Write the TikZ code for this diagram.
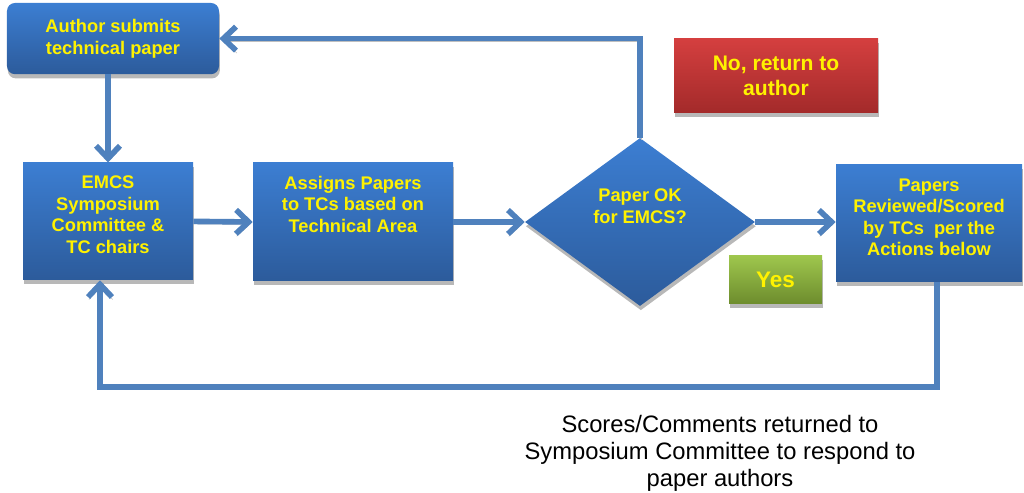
\documentclass[tikz,border=0pt]{standalone}
\usepackage{fontspec}
\setsansfont{Liberation Sans}
\usetikzlibrary{shapes.geometric,arrows.meta,shadows}

\definecolor{boxtop}{HTML}{3C7ED2}
\definecolor{boxbottom}{HTML}{2C5B9B}
\definecolor{notop}{HTML}{D43F3F}
\definecolor{nobottom}{HTML}{A32A2A}
\definecolor{yestop}{HTML}{9EC64D}
\definecolor{yesbottom}{HTML}{6D8C2D}
\definecolor{flowblue}{HTML}{4F81BD}

\begin{document}
\begin{tikzpicture}[
    box/.style={rectangle, top color=boxtop, bottom color=boxbottom, text=yellow,
      font=\sffamily\bfseries\fontsize{13}{15.3}\selectfont, align=center, inner sep=0pt,
      drop shadow={shadow xshift=0.6pt, shadow yshift=-3pt, fill=gray!70, opacity=0.8}},
    flow/.style={draw=flowblue, line width=4pt, -{Straight Barb[length=9pt,width=17pt]},
      preaction={draw=gray!50, transform canvas={xshift=0.6pt,yshift=-1.8pt}}}
  ]
  \useasboundingbox (0,0) rectangle (25.6,12.325);

  \node[box, rounded corners=0.2cm, minimum width=5.3cm, minimum height=1.78cm] (author) at (2.825,11.36) {Author submits\\technical paper};
  \node[box, minimum width=4.25cm, minimum height=2.93cm, text depth=0.35cm] (emcs) at (2.7,6.79) {EMCS\\Symposium\\Committee \&\\TC chairs};
  \node[box, minimum width=5cm, minimum height=2.95cm, text depth=0.9cm] (assign) at (8.825,6.775) {Assigns Papers\\to TCs based on\\Technical Area};
  \node[box, diamond, shape aspect=1.37, minimum width=5.75cm, minimum height=4.2cm, text depth=0.8cm] (check) at (16,6.775) {Paper OK\\for EMCS?};
  \node[box, minimum width=4.65cm, minimum height=2.93cm, text depth=0.3cm] (papers) at (23.225,6.74) {Papers\\Reviewed/Scored\\by TCs\ \ per the\\Actions below};
  \node[box, top color=notop, bottom color=nobottom, minimum width=5.1cm, minimum height=1.85cm,
    font=\sffamily\bfseries\fontsize{15}{17.8}\selectfont] (no) at (19.4,10.425) {No, return to\\author};
  \node[box, top color=yestop, bottom color=yesbottom, minimum width=2.33cm, minimum height=1.2cm,
    font=\sffamily\bfseries\fontsize{16}{18}\selectfont] (yes) at (19.39,5.325) {Yes};
  \node[font=\sffamily\fontsize{16.9}{19.2}\selectfont, align=center] (note) at (18,1.0) {Scores/Comments returned to\\Symposium Committee to respond to\\paper authors};

  \coordinate (back) at (2.5,2.65);

  \draw[flow] (author.south -| emcs.north) -- (emcs.north);
  \draw[flow] (emcs.east) -- (assign.west);
  \draw[flow] (assign.east) -- (check.west);
  \draw[flow] (check.east) -- (check.east -| papers.west);
  \draw[flow] (check.north) |- (author.east);
  \draw[flow] ([xshift=0.2cm]papers.south) |- (back) -- (back |- emcs.south);
\end{tikzpicture}
\end{document}
